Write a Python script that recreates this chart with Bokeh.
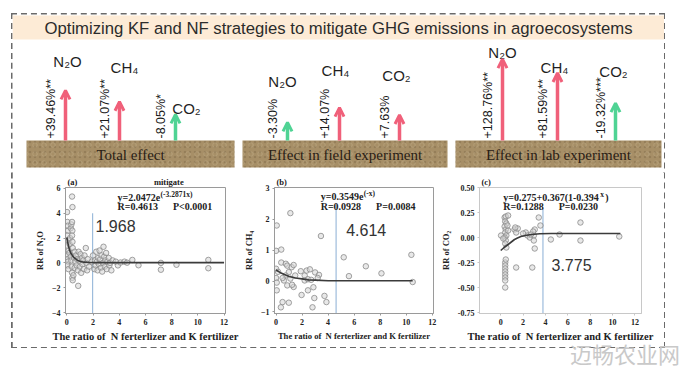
import numpy as np
from bokeh.plotting import figure
from bokeh.models import (ColumnDataSource, Range1d, Arrow, OpenHead, Label,
                          FixedTicker, NumeralTickFormatter, Div, Spacer)
from bokeh.layouts import column, row
from bokeh.embed import file_html
from bokeh.resources import INLINE
from bokeh.core.properties import value

# ------------------------------------------------------------------ data
title_text = "Optimizing KF and NF strategies to mitigate GHG emissions in agroecosystems"
panel_names = ["Total effect", "Effect in field experiment", "Effect in lab experiment"]
gas_names = ["N\u2082O", "CH\u2084", "CO\u2082"]
effect_total = [39.46, 21.07, -8.05]
effect_field = [-3.30, 14.07, 7.63]
effect_lab = [128.76, 81.59, -19.32]
sig_total = ["**", "**", "*"]
sig_field = ["", "", ""]
sig_lab = ["**", "**", "***"]

# (a) RR of N2O vs N/K ratio
a_x = [0.02, 0.05, 0.08, 0.1, 0.05, 0.12, 0.03, 0.15, 0.08, 0.02, 0.1, 0.05, 0.12, 0.2, 0.22,
       0.25, 0.3, 0.35, 0.4, 0.42, 0.4, 0.43, 0.45, 0.4, 0.43, 0.3, 0.35, 0.38, 0.4, 0.42,
       0.45, 0.5, 0.55, 0.6, 0.6, 0.65, 0.7, 0.75, 0.8, 0.85, 0.87, 0.9, 0.95, 1.0, 1.05,
       1.1, 1.15, 1.2, 1.25, 1.3, 1.35, 1.45, 1.5, 1.55, 1.6, 1.7,
       1.9, 2.0, 2.1, 2.15, 2.2, 2.25, 2.3, 2.35, 2.4, 2.45, 2.5, 2.55, 2.6, 2.65, 2.7, 2.75,
       2.8, 2.85, 2.9, 2.95, 3.0, 3.05, 3.1, 3.2, 3.25, 3.3, 3.4, 3.5,
       3.74, 3.9, 4.1, 4.4, 4.6, 5.0, 5.47, 7.18, 7.18, 8.37, 10.8, 10.8]
a_y = [4.1, 3.3, 3.0, 2.6, 2.2, 1.8, 1.4, 1.0, 0.6, 0.3, 0.1, -0.2, -0.5, 0.8, 1.5,
       2.0, 2.8, 3.1, 3.3, 2.6, 2.2, 1.7, 1.2, 5.35, 4.5, 0.5, 0.2, -0.3, -0.8, -1.2,
       -1.4, -1.0, 0.4, 0.9, -0.4, 0.1, 0.6, -0.2, 0.3, -0.6, -1.85, 0.9, 0.2, -0.3, 0.7,
       -0.8, 0.4, -0.1, 0.2, -0.5, 0.6, 1.2, 0.0, -0.6, 0.3, -0.3,
       0.1, 0.6, -0.5, 0.2, -0.2, 0.9, 0.1, -0.6, 0.4, -0.1, 1.0, 0.3, -0.4, 0.6, -0.7, 0.0,
       1.3, 0.5, -0.3, 0.2, 0.8, -0.5, 0.1, 0.4, -0.2, 0.0, -0.6, 0.2,
       0.1, -0.2, 0.03, 0.1, 0.02, 0.24, -0.19, 0.0, -0.55, -0.15, 0.24, -0.43]
a_fit_x = [0, 0.1, 0.2, 0.3, 0.45, 0.6, 0.8, 1.0, 1.3, 1.7, 2.5, 4, 6, 9, 12]
a_fit_y = [2.05, 1.5, 1.05, 0.8, 0.55, 0.38, 0.22, 0.13, 0.06, 0.03, 0.02, 0.02, 0.02, 0.02, 0.02]

# (b) RR of CH4 vs N/K ratio
b_x = [0.05, 0.0, 0.4, 1.1, 3.45, 5.2, 6.9, 8.1, 5.6, 10.4, 10.5,
       0.0, 0.0, 0.05, 0.05, 0.4, 0.75, 0.86, 0.98, 1.2, 1.35, 0.74, 1.1, 0.6, 1.47, 1.9,
       2.2, 2.35, 2.2, 2.45, 2.6, 2.45, 1.96, 1.35, 0.86, 0.5, 0.98, 0.37, 3.0, 3.3, 2.87,
       3.72, 3.87, 2.8, 0.5, 1.23, 2.7, 3.2, 2.94, 0.15]
b_y = [1.8, 0.98, 1.02, 2.2, 1.46, 0.77, 0.48, 0.25, 0.16, 0.85, -0.03,
       0.4, 0.1, -0.05, -0.3, 0.6, 0.56, 0.5, 0.29, 0.45, 0.52, 0.18, 0.08, 0.02, 0.18, 0.32,
       0.18, 0.34, 0.02, 0.06, 0.38, -0.3, -0.45, -0.19, -0.14, -0.68, -0.7, -0.85, 0.28, 0.2, -0.2,
       -0.48, -0.68, -0.85, 0.1, -0.12, 0.04, 0.1, -0.55, 0.3]
b_fit_x = [0, 0.3, 0.6, 1.0, 1.5, 2.0, 2.5, 3.0, 4.0, 5, 7, 10.5]
b_fit_y = [0.36, 0.28, 0.22, 0.15, 0.1, 0.07, 0.04, 0.03, 0.01, 0.01, 0.01, 0.01]

# (c) RR of CO2 vs N/K ratio
c_x = [0.35, 0.45, 0.66, 0.4, 0.5, 0.35, 0.45, 0.4, 0.5, 0.35, 0.45, 0.4, 0.5, 0.03, 0.23, 0.66, 0.6,
       0.4, 0.4, 0.4, 0.4, 0.4, 0.4, 0.4, 0.4, 0.45,
       1.23, 1.38, 1.52, 1.3, 2.24, 2.39, 2.6, 2.96, 3.04, 2.9, 2.96, 3.04, 3.4, 3.55, 4.48,
       5.26, 7.13, 7.13, 10.6, 1.38, 2.82, 2.0, 2.7]
c_y = [0.2, 0.21, 0.22, 0.16, 0.14, 0.11, 0.08, 0.05, 0.02, 0.0, -0.03, -0.06, -0.1, 0.02, -0.01, 0.07, 0.12,
       -0.25, -0.28, -0.31, -0.34, -0.37, -0.40, -0.43, -0.50, -0.22,
       0.08, 0.05, 0.09, 0.1, 0.05, 0.02, 0.0, 0.02, 0.08, 0.06, -0.03, -0.11, 0.2, 0.12, -0.02,
       0.03, 0.15, -0.03, 0.01, -0.3, -0.3, 0.04, 0.03]
c_fit_x = [0.0, 0.3, 0.66, 1.0, 1.23, 1.5, 1.8, 2.2, 2.6, 3.0, 3.5, 4.5, 6, 8, 10.7]
c_fit_y = [-0.13, -0.10, -0.07, -0.04, -0.02, -0.005, 0.01, 0.02, 0.028, 0.033, 0.037, 0.04, 0.04, 0.04, 0.04]

thresholds = [1.968, 4.614, 3.775]
fit_eq = ["y=2.0472e", "y=0.3549e", "y=0.275+0.367(1-0.394"]
fit_sup = ["(-3.2871x)", "(-x)", "x"]
fit_tail = ["", "", ")"]
NB = "\u00a0"
fit_stats = ["R=0.4613" + NB * 6 + "P<0.0001", "R=0.0928" + NB * 6 + "P=0.0084",
             "R=0.1288" + NB * 6 + "P=0.0230"]
panel_tags = ["(a)", "(b)", "(c)"]
panel_note = "mitigate"
y_labels = ["RR of N\u2082O", "RR of CH\u2084", "RR of CO\u2082"]
x_label = "The ratio of" + NB + NB + "N ferterlizer and K fertilizer"
x_ticks = [0, 2, 4, 6, 8, 10, 12]
a_yticks = [-4, -2, 0, 2, 4, 6]
b_yticks = [-1, 0, 1, 2, 3]
c_yticks = [-0.75, -0.5, -0.25, 0, 0.25, 0.5]
watermark = "迈畅农业网"

# ------------------------------------------------------------------ style
PINK = "#f0607a"
GREEN = "#4fd394"
SANS = "Liberation Sans"
SERIF = "Liberation Serif"

# ------------------------------------------------------------------ top infographic
top = figure(width=652, height=158, x_range=Range1d(20, 672), y_range=Range1d(180, 22),
             x_axis_type=None, y_axis_type=None, output_backend="svg",
             toolbar_location=None, min_border=0)
top.grid.visible = False
top.outline_line_color = None

top.quad(left=20, right=672, top=23, bottom=47, fill_color="#fdebd6", line_color=None)
top.text(x=[346], y=[35.5], text=[title_text], text_font=value(SANS), text_font_size="16.7px",
         text_align="center", text_baseline="middle", text_color="#2b2b2b")

soil_left = [34, 250, 463]
soil_right = [242, 455, 669]
top.quad(left=soil_left, right=soil_right, top=148, bottom=175, fill_color="#a78f67",
         line_color=None)
top.quad(left=soil_left, right=soil_right, top=148, bottom=175, fill_alpha=0,
         line_color=None, hatch_pattern="dot", hatch_color="#5e4a30", hatch_alpha=0.25,
         hatch_scale=5, hatch_weight=1.2)
top.quad(left=soil_left, right=soil_right, top=148, bottom=175, fill_alpha=0,
         line_color=None, hatch_pattern="ring", hatch_color="#cbb894", hatch_alpha=0.3,
         hatch_scale=9, hatch_weight=1)
top.text(x=[(l + r) / 2 for l, r in zip(soil_left, soil_right)], y=[162] * 3, text=panel_names,
         text_font=value(SERIF), text_font_size="15px", text_align="center",
         text_baseline="middle", text_color="#2a2015")

arrow_px = [[73, 127, 183], [295, 347, 407], [510, 565, 623]]
gas_lbl_pos = [[(75, 69), (132, 75), (194, 116)],
               [(290, 89), (343, 78), (404, 83)],
               [(510, 60), (562, 75), (621, 79)]]
BASE = 148
effects = [effect_total, effect_field, effect_lab]
sigs = [sig_total, sig_field, sig_lab]

arr = {PINK: dict(x=[], y0=[], y1=[]), GREEN: dict(x=[], y0=[], y1=[])}
pct = dict(x=[], y=[], text=[])
gl = dict(x=[], y=[], text=[])
for pi_, (vals, ss) in enumerate(zip(effects, sigs)):
    for gi, (v, s) in enumerate(zip(vals, ss)):
        L = 11.1 * abs(v) ** 0.41          # arrow length grows with |effect|
        c = PINK if v > 0 else GREEN
        ax = arrow_px[pi_][gi]
        arr[c]["x"].append(ax)
        arr[c]["y0"].append(BASE)
        arr[c]["y1"].append(BASE - L)
        pct["x"].append(ax - 15)
        pct["y"].append(BASE - 2)
        pct["text"].append(f"{v:+.2f}%{s}")
        gx, gy = gas_lbl_pos[pi_][gi]
        gl["x"].append(gx)
        gl["y"].append(gy)
        gl["text"].append(gas_names[gi])

for c, d in arr.items():
    top.add_layout(Arrow(end=OpenHead(size=9, line_color=c, line_width=3),
                         x_start="x", y_start="y0", x_end="x", y_end="y1",
                         line_color=c, line_width=3.5, source=ColumnDataSource(d)))

top.text(x="x", y="y", text="text", source=ColumnDataSource(pct), angle=np.pi / 2,
         text_font=value(SANS), text_font_size="12.5px", text_align="left",
         text_baseline="middle", text_color="#1a1a1a")
top.text(x="x", y="y", text="text", source=ColumnDataSource(gl), text_font=value(SANS),
         text_font_size="15px", text_align="center", text_baseline="middle",
         text_color="#1f1f1f")


# ------------------------------------------------------------------ scatter panels
def panel(width, bl, br, xr, yr, yticks, xs, ys, fx, fy, thr, thr_top, title, ylab,
          eq, sup, tail, stats, eq_pos, big_pos, sup_dx, tail_dx, frame="#9a9a9a",
          fmt=None, xlab_size="10.5px"):
    p = figure(width=width, height=175, x_range=Range1d(*xr), y_range=Range1d(*yr),
               output_backend="svg", toolbar_location=None, min_border_left=bl,
               min_border_right=br, min_border_top=15, min_border_bottom=34)
    p.grid.visible = False
    p.outline_line_color = frame
    p.title.text = title
    p.title.align = "left"
    p.title.offset = 2
    p.title.standoff = 1
    p.title.text_font = SERIF
    p.title.text_font_style = "bold"
    p.title.text_font_size = "8.5px"
    p.title.text_color = "#222222"
    p.xaxis.ticker = FixedTicker(ticks=x_ticks)
    p.yaxis.ticker = FixedTicker(ticks=yticks)
    if fmt:
        p.yaxis.formatter = NumeralTickFormatter(format=fmt)
    for ax in (p.xaxis[0], p.yaxis[0]):
        ax.axis_line_color = frame
        ax.major_tick_line_color = frame
        ax.major_tick_in = 0
        ax.major_tick_out = 2
        ax.minor_tick_line_color = None
        ax.major_label_text_font = SERIF
        ax.major_label_text_font_style = "bold"
        ax.major_label_text_font_size = "8px"
        ax.major_label_text_color = "#222222"
        ax.major_label_standoff = 3
        ax.axis_label_text_font = SERIF
        ax.axis_label_text_font_style = "bold"
        ax.axis_label_text_color = "#222222"
    p.xaxis.axis_label = x_label
    p.xaxis.axis_label_text_font_size = xlab_size
    p.xaxis.axis_label_standoff = 3
    p.yaxis.axis_label = ylab
    p.yaxis.axis_label_text_font_size = "8.5px"
    p.yaxis.axis_label_standoff = 4

    p.segment(x0=[thr], y0=[yr[0]], x1=[thr], y1=[thr_top], line_color="#9dbcdc",
              line_width=1.2)
    p.scatter(xs, ys, size=5.5, marker="circle", fill_color="#d6d6d6", fill_alpha=0.55,
              line_color="#8a8a8a", line_width=0.8)
    p.line(fx, fy, line_color="#3b3b3b", line_width=1.6)

    lab = dict(text_font=SERIF, text_font_style="bold", text_color="#222222",
               text_baseline="middle")
    ex, ey, ry = eq_pos
    p.add_layout(Label(x=ex, y=ey, text=eq, text_font_size="10px", **lab))
    p.add_layout(Label(x=ex, y=ey, x_offset=sup_dx, y_offset=3, text=sup,
                       text_font_size="7.5px", **lab))
    if tail:
        p.add_layout(Label(x=ex, y=ey, x_offset=tail_dx, text=tail, text_font_size="10px",
                           **lab))
    p.add_layout(Label(x=ex, y=ry, text=stats, text_font_size="10px", **lab))
    p.add_layout(Label(x=big_pos[0], y=big_pos[1], text=f"{thr:.3f}", text_font=SANS,
                       text_font_size="16px", text_color="#333333", text_baseline="middle"))
    return p


fa = panel(228, 53, 15, (-0.1, 12.11), (-4.08, 6.08), a_yticks, a_x, a_y, a_fit_x, a_fit_y,
           thresholds[0], 4.0, panel_tags[0] + NB * 36 + panel_note, y_labels[0], fit_eq[0],
           fit_sup[0], fit_tail[0], fit_stats[0], (3.87, 5.31, 4.55), (2.19, 2.94), 43, 0)
fb = panel(197, 27, 4, (-0.12, 12.1), (-1.05, 3.03), b_yticks, b_x, b_y, b_fit_x, b_fit_y,
           thresholds[1], 2.48, panel_tags[1], y_labels[1], fit_eq[1], fit_sup[1],
           fit_tail[1], fit_stats[1], (3.43, 2.73, 2.42), (5.39, 1.65), 43, 0,
           xlab_size="8.6px")
fc = panel(227, 36, 23, (-1.9, 12.59), (-0.76, 0.5), c_yticks, c_x, c_y, c_fit_x, c_fit_y,
           thresholds[2], 0.3, panel_tags[2], y_labels[2], fit_eq[2], fit_sup[2],
           fit_tail[2], fit_stats[2], (0.23, 0.405, 0.31), (4.54, -0.27), 97, 102,
           frame="#c8c8c8", fmt="0.00")

main = column(top, row(fa, fb, fc),
              styles={"outline": "2px dashed #6a6a6a", "outline-offset": "-1px"})
wm = Div(text=('<div style="position:absolute;top:-11px;left:0;font-size:22px;'
               'line-height:24px;color:#c9c9c9;font-family:\'Noto Sans CJK SC\';'
               'white-space:nowrap">' + watermark + '</div>'),
         width=115, height=1, styles={"overflow": "visible"})
root = column(Spacer(height=14), row(Spacer(width=12), main), row(Spacer(width=565), wm))

open("out.html", "w").write(file_html(root, INLINE))
